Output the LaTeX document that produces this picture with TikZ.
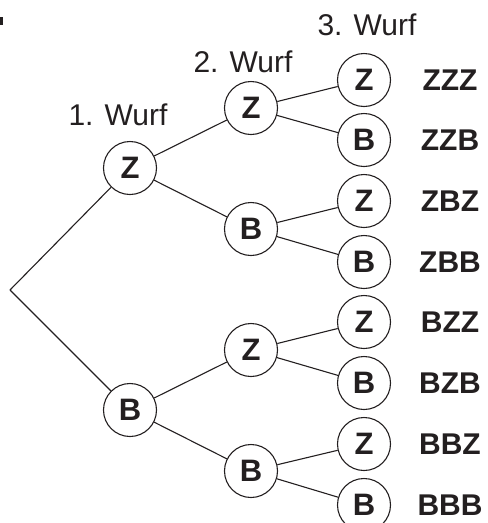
\documentclass[tikz,border=0pt]{standalone}
\usepackage{fontspec}
\setmainfont{Liberation Sans}
\definecolor{ink}{HTML}{231F20}
\begin{document}
\begin{tikzpicture}[x=1pt,y=-1pt,
  toss/.style={circle, draw=ink, line width=1.1pt, minimum size=53pt, inner sep=0pt,
    text=ink, font=\fontsize{31}{31}\selectfont\bfseries},
  outcome/.style={text=ink, font=\fontsize{30}{30}\selectfont\bfseries},
  wurf/.style={anchor=base, text=ink, font=\fontsize{30}{30}\selectfont},
  branch/.style={draw=ink, line width=1.1pt}]
\useasboundingbox (0,0) rectangle (488,523);
\clip (0,0) rectangle (488,523);

% small mark at the left edge
\fill[ink] (0,17) rectangle (2.5,25);

% column headings
\node[wurf] (h1) at (118,125) {1. Wurf};
\node[wurf] (h2) at (243,72) {2. Wurf};
\node[wurf] (h3) at (367,35) {3. Wurf};

% root
\coordinate (r) at (10,290);

% first toss
\node[toss] (z) at (130,168) {Z};
\node[toss] (b) at (130,410) {B};

% second toss
\node[toss] (zz) at (251,108) {Z};
\node[toss] (zb) at (251,229) {B};
\node[toss] (bz) at (251,350) {Z};
\node[toss] (bb) at (251,471) {B};

% third toss
\node[toss] (zzz) at (364,80) {Z};
\node[toss] (zzb) at (364,140) {B};
\node[toss] (zbz) at (364,201) {Z};
\node[toss] (zbb) at (364,262) {B};
\node[toss] (bzz) at (364,322) {Z};
\node[toss] (bzb) at (364,383) {B};
\node[toss] (bbz) at (364,444) {Z};
\node[toss] (bbb) at (364,505) {B};

% outcomes
\node[outcome] (ozzz) at (450,80) {ZZZ};
\node[outcome] (ozzb) at (450,140) {ZZB};
\node[outcome] (ozbz) at (450,201) {ZBZ};
\node[outcome] (ozbb) at (450,262) {ZBB};
\node[outcome] (obzz) at (450,322) {BZZ};
\node[outcome] (obzb) at (450,383) {BZB};
\node[outcome] (obbz) at (450,444) {BBZ};
\node[outcome] (obbb) at (450,505) {BBB};

% branches
\path[branch] (r) -- (z) (r) -- (b);
\path[branch] (z) -- (zz) (z) -- (zb) (b) -- (bz) (b) -- (bb);
\path[branch] (zz) -- (zzz) (zz) -- (zzb) (zb) -- (zbz) (zb) -- (zbb);
\path[branch] (bz) -- (bzz) (bz) -- (bzb) (bb) -- (bbz) (bb) -- (bbb);
\end{tikzpicture}
\end{document}
